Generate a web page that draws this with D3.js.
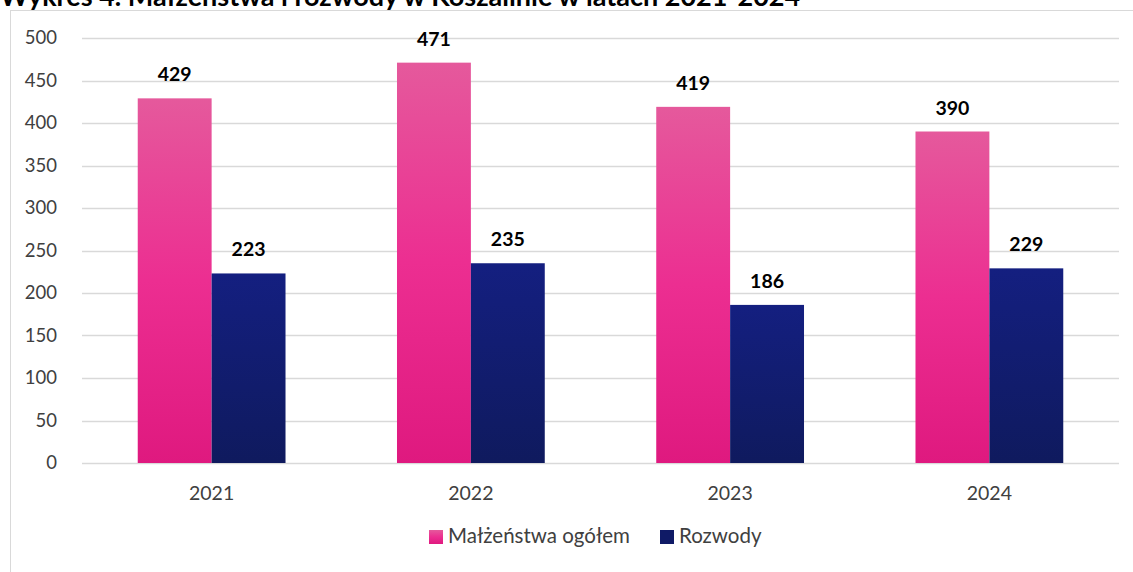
<!DOCTYPE html>
<html>
<head>
<meta charset="utf-8">
<script src="https://cdn.jsdelivr.net/npm/d3@7"></script>
<style>
  body { margin: 0; background: #fff; }
  svg { display: block; font-family: Lato, "Open Sans", sans-serif; }
</style>
</head>
<body>
<svg width="1133" height="572"></svg>
<script>
var years = ["2021", "2022", "2023", "2024"];
var seriesNames = ["Małżeństwa ogółem", "Rozwody"];
var marriages = [429, 471, 419, 390];
var divorces = [223, 235, 186, 229];
var yTicks = [0, 50, 100, 150, 200, 250, 300, 350, 400, 450, 500];

var svg = d3.select("svg"),
    width = +svg.attr("width"),
    height = +svg.attr("height");

var margin = {top: 38, right: 14, bottom: 109, left: 82};

// gradients for the bars
var defs = svg.append("defs");
var pink = defs.append("linearGradient").attr("id", "gPink")
    .attr("x1", 0).attr("y1", 0).attr("x2", 0).attr("y2", 1);
pink.append("stop").attr("offset", "0%").attr("stop-color", "#e5599c");
pink.append("stop").attr("offset", "50%").attr("stop-color", "#ec2e91");
pink.append("stop").attr("offset", "100%").attr("stop-color", "#df197f");
var navy = defs.append("linearGradient").attr("id", "gNavy")
    .attr("x1", 0).attr("y1", 0).attr("x2", 0).attr("y2", 1);
navy.append("stop").attr("offset", "0%").attr("stop-color", "#141f80");
navy.append("stop").attr("offset", "100%").attr("stop-color", "#0f1a5e");

// title (cut off at the top, as in the source)
svg.append("text")
    .attr("x", 0).attr("y", 6)
    .style("font-size", "27px").style("font-weight", "bold").style("fill", "#000")
    .text("Wykres 4. Małżeństwa i rozwody w Koszalinie w latach 2021-2024");

// chart frame
svg.append("rect")
    .attr("x", 10.5).attr("y", 10.5)
    .attr("width", width).attr("height", height)
    .attr("fill", "none").attr("stroke", "#d9d9d9");

var x = d3.scaleBand()
    .domain(years)
    .range([margin.left, width - margin.right])
    .paddingInner(0.43).paddingOuter(0.215);

var y = d3.scaleLinear()
    .domain([0, 500])
    .range([height - margin.bottom, margin.top]);

// gridlines
svg.append("g").selectAll("line")
    .data(yTicks)
    .enter().append("line")
    .attr("x1", margin.left).attr("x2", width - margin.right)
    .attr("y1", function(d) { return Math.round(y(d)) + 0.5; })
    .attr("y2", function(d) { return Math.round(y(d)) + 0.5; })
    .attr("stroke", "#d9d9d9").attr("stroke-width", 1.3);

// y axis
var yAxis = svg.append("g")
    .attr("transform", "translate(" + (margin.left - 22) + ",0)")
    .call(d3.axisLeft(y).tickValues(yTicks).tickSize(0));
yAxis.select(".domain").remove();
yAxis.selectAll("text").style("font-size", "18.5px").style("fill", "#404040")
    .style("font-family", "Lato, sans-serif");

// x axis
var xAxis = svg.append("g")
    .attr("transform", "translate(0," + (height - margin.bottom + 20) + ")")
    .call(d3.axisBottom(x).tickSize(0));
xAxis.select(".domain").remove();
xAxis.selectAll("text").style("font-size", "19.5px").style("fill", "#404040")
    .style("font-family", "Lato, sans-serif");

var bw = x.bandwidth() / 2;
var series = [
  {name: seriesNames[0], values: marriages, fill: "url(#gPink)", off: 0},
  {name: seriesNames[1], values: divorces, fill: "url(#gNavy)", off: bw}
];

series.forEach(function(s) {
  var g = svg.append("g");
  g.selectAll("rect")
    .data(s.values)
    .enter().append("rect")
    .attr("x", function(d, i) { return x(years[i]) + s.off; })
    .attr("y", function(d) { return y(d); })
    .attr("width", bw)
    .attr("height", function(d) { return y(0) - y(d); })
    .attr("fill", s.fill);
  g.selectAll("text")
    .data(s.values)
    .enter().append("text")
    .attr("x", function(d, i) { return x(years[i]) + s.off + bw / 2; })
    .attr("y", function(d) { return y(d) - 17; })
    .attr("text-anchor", "middle")
    .style("font-size", "19.5px").style("font-weight", "bold").style("fill", "#000")
    .text(function(d) { return d; });
});

// legend
var legend = svg.append("g");
var legendX = [429, 660];
var legendFill = ["url(#gPink)", "#0f1a66"];
seriesNames.forEach(function(n, i) {
  legend.append("rect")
    .attr("x", legendX[i]).attr("y", 530)
    .attr("width", 14).attr("height", 14)
    .attr("fill", legendFill[i]);
  legend.append("text")
    .attr("x", legendX[i] + 19).attr("y", 543)
    .style("font-size", "20.5px").style("fill", "#404040")
    .text(n);
});
</script>
</body>
</html>
